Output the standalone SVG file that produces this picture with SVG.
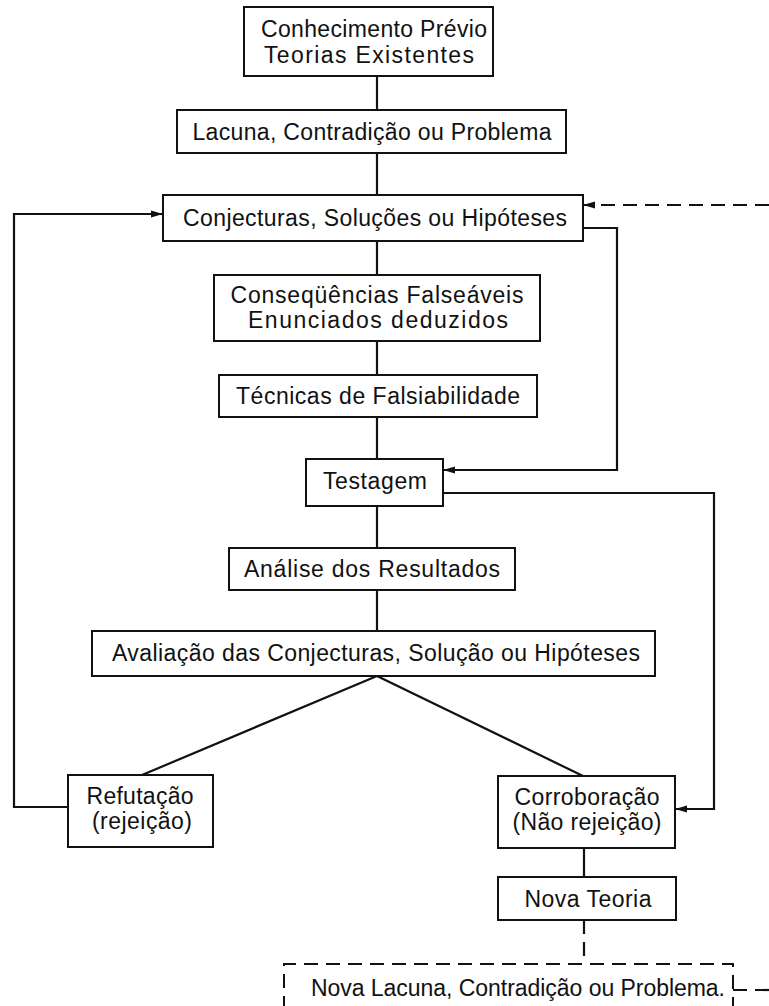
<svg xmlns="http://www.w3.org/2000/svg" width="769" height="1006" viewBox="0 0 769 1006">
<style>
.box{fill:#fff;stroke:#111;stroke-width:2}
.dbox{fill:none;stroke:#111;stroke-width:2;stroke-dasharray:14,8}
.ln{fill:none;stroke:#111;stroke-width:2.2}
.dl{fill:none;stroke:#111;stroke-width:2.2;stroke-dasharray:14,8}
text{font-family:"Liberation Sans",Arial,sans-serif;font-size:23px;fill:#111;text-anchor:middle}
</style>
<defs>
<marker id="ah" markerWidth="12" markerHeight="8" refX="11" refY="4" orient="auto" markerUnits="userSpaceOnUse">
<path d="M0,0.5 L12,4 L0,7.5 Z" fill="#111"/>
</marker>
</defs>
<rect width="769" height="1006" fill="#fff"/>
<g id="connectors">
<path class="ln" d="M377,76 V110"/>
<path class="ln" d="M377,153 V195"/>
<path class="ln" d="M377,241 V275"/>
<path class="ln" d="M377,341 V375"/>
<path class="ln" d="M377,417 V459"/>
<path class="ln" d="M377,506 V548"/>
<path class="ln" d="M377,590 V631"/>
<path class="ln" d="M377,676 L142,775"/>
<path class="ln" d="M377,676 L583,776"/>
<path class="ln" d="M584,848 V877"/>
<path class="dl" d="M584,920 V964"/>
<path class="ln" d="M68,807 H14 V214 H162" marker-end="url(#ah)"/>
<path class="ln" d="M583,228 H617 V470 H444" marker-end="url(#ah)"/>
<path class="ln" d="M443,493 H714 V809 H676" marker-end="url(#ah)"/>
<path class="dl" d="M769,205 H584" marker-end="url(#ah)"/>
<path class="dl" d="M733,990 H769"/>
</g>
<g id="n1"><rect class="box" x="244" y="7" width="249" height="69"/><text x="374" y="37" textLength="226">Conhecimento Prévio</text><text x="369" y="63" textLength="210">Teorias Existentes</text></g>
<g id="n2"><rect class="box" x="177" y="110" width="389" height="43"/><text x="372" y="140" textLength="359">Lacuna, Contradição ou Problema</text></g>
<g id="n3"><rect class="box" x="163" y="195" width="420" height="46"/><text x="375" y="226" textLength="384">Conjecturas, Soluções ou Hipóteses</text></g>
<g id="n4"><rect class="box" x="214" y="275" width="326" height="66"/><text x="377" y="303" textLength="293">Conseqüências Falseáveis</text><text x="378" y="328" textLength="260">Enunciados deduzidos</text></g>
<g id="n5"><rect class="box" x="219" y="375" width="318" height="42"/><text x="378" y="404" textLength="284">Técnicas de Falsiabilidade</text></g>
<g id="n6"><rect class="box" x="306" y="459" width="137" height="47"/><text x="375" y="489" textLength="104">Testagem</text></g>
<g id="n7"><rect class="box" x="229" y="548" width="286" height="42"/><text x="372" y="577" textLength="256">Análise dos Resultados</text></g>
<g id="n8"><rect class="box" x="92" y="631" width="563" height="45"/><text x="376" y="661" textLength="528">Avaliação das Conjecturas, Solução ou Hipóteses</text></g>
<g id="n9"><rect class="box" x="68" y="775" width="145" height="72"/><text x="140" y="804" textLength="107">Refutação</text><text x="142" y="829" textLength="100">(rejeição)</text></g>
<g id="n10"><rect class="box" x="498" y="776" width="177" height="72"/><text x="587" y="805" textLength="145">Corroboração</text><text x="587" y="830" textLength="149">(Não rejeição)</text></g>
<g id="n11"><rect class="box" x="498" y="877" width="178" height="43"/><text x="588" y="907" textLength="127">Nova Teoria</text></g>
<g id="n12"><path class="dbox" d="M284,1010 V964 H733 V1010"/><text x="518" y="996" textLength="414">Nova Lacuna, Contradição ou Problema.</text></g>
</svg>
